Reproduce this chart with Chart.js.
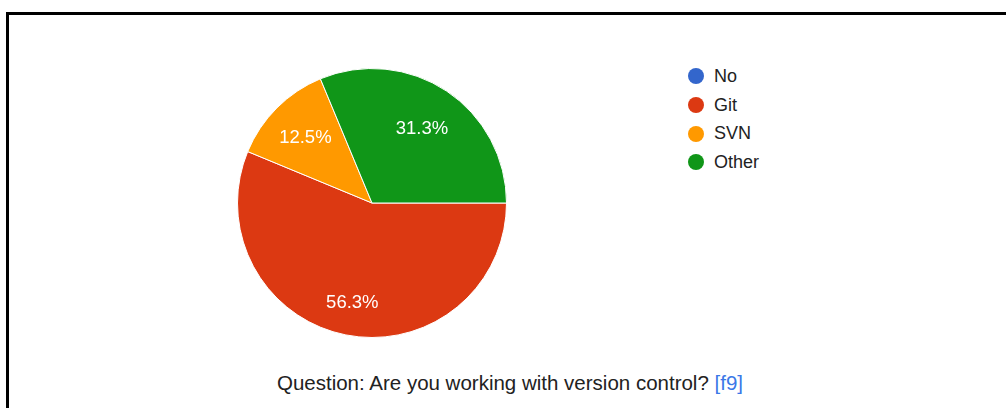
<!DOCTYPE html>
<html>
<head>
<meta charset="utf-8">
<script src="https://cdn.jsdelivr.net/npm/chart.js@4/dist/chart.umd.min.js"></script>
<style>
  html, body { margin: 0; padding: 0; background: #fff; }
  body { width: 1006px; height: 408px; position: relative; overflow: hidden;
         font-family: Arial, "Liberation Sans", sans-serif; }
  .frame-top { position: absolute; left: 6px; top: 12px; width: 1000px; height: 3px; background: #000; }
  .frame-left { position: absolute; left: 6px; top: 12px; width: 3px; height: 396px; background: #000; }
  #pieWrap { position: absolute; left: 237px; top: 68px; width: 270px; height: 270px; }
  #legend { position: absolute; left: 688px; top: 62px; margin: 0; padding: 0; list-style: none; }
  #legend li { height: 28.7px; display: flex; align-items: center; font-size: 18px; color: #222; }
  #legend .dot { width: 16px; height: 16px; border-radius: 50%; margin-right: 10px; }
  #caption { position: absolute; left: 0; width: 1020px; top: 371px; text-align: center;
             font-size: 20.5px; color: #222; line-height: 24px; }
  #caption a { color: #3b78e7; text-decoration: none; }
</style>
</head>
<body>
<div class="frame-top"></div>
<div class="frame-left"></div>
<div id="pieWrap"><canvas id="pie"></canvas></div>
<ul id="legend"></ul>
<div id="caption">Question: Are you working with version control? <a href="#">[f9]</a></div>

<script>
// Answers and their share of responses (percent)
const categories = ['No', 'Git', 'SVN', 'Other'];
const shares = [0, 56.3, 12.5, 31.3];
const sliceColors = ['#3366cc', '#dc3912', '#ff9900', '#109618'];
// radial position of each percentage label, as a fraction of the radius
const labelRadius = [0.7, 0.75, 0.7, 0.67];

// Legend list
const legend = document.getElementById('legend');
categories.forEach((name, i) => {
  const li = document.createElement('li');
  const dot = document.createElement('span');
  dot.className = 'dot';
  dot.style.background = sliceColors[i];
  li.appendChild(dot);
  li.appendChild(document.createTextNode(name));
  legend.appendChild(li);
});

// Writes the percentage inside each slice
const sliceLabels = {
  id: 'sliceLabels',
  afterDatasetsDraw(chart) {
    const ctx = chart.ctx;
    const meta = chart.getDatasetMeta(0);
    ctx.save();
    ctx.fillStyle = '#ffffff';
    ctx.font = '18.5px Arial, "Liberation Sans", sans-serif';
    ctx.textAlign = 'center';
    ctx.textBaseline = 'middle';
    meta.data.forEach((arc, i) => {
      const v = chart.data.datasets[0].data[i];
      if (!v) return;
      const p = arc.getProps(['x', 'y', 'startAngle', 'endAngle', 'outerRadius'], true);
      const mid = (p.startAngle + p.endAngle) / 2;
      const r = p.outerRadius * labelRadius[i];
      ctx.fillText(v.toFixed(1) + '%', p.x + Math.cos(mid) * r, p.y + Math.sin(mid) * r + 1);
    });
    ctx.restore();
  }
};

new Chart(document.getElementById('pie'), {
  type: 'pie',
  data: {
    labels: categories,
    datasets: [{
      data: shares,
      backgroundColor: sliceColors,
      borderColor: '#ffffff',
      borderWidth: 1
    }]
  },
  options: {
    responsive: true,
    maintainAspectRatio: false,
    animation: false,
    rotation: 90,
    layout: { padding: 0 },
    plugins: {
      legend: { display: false },
      tooltip: { enabled: false }
    }
  },
  plugins: [sliceLabels]
});
</script>
</body>
</html>
